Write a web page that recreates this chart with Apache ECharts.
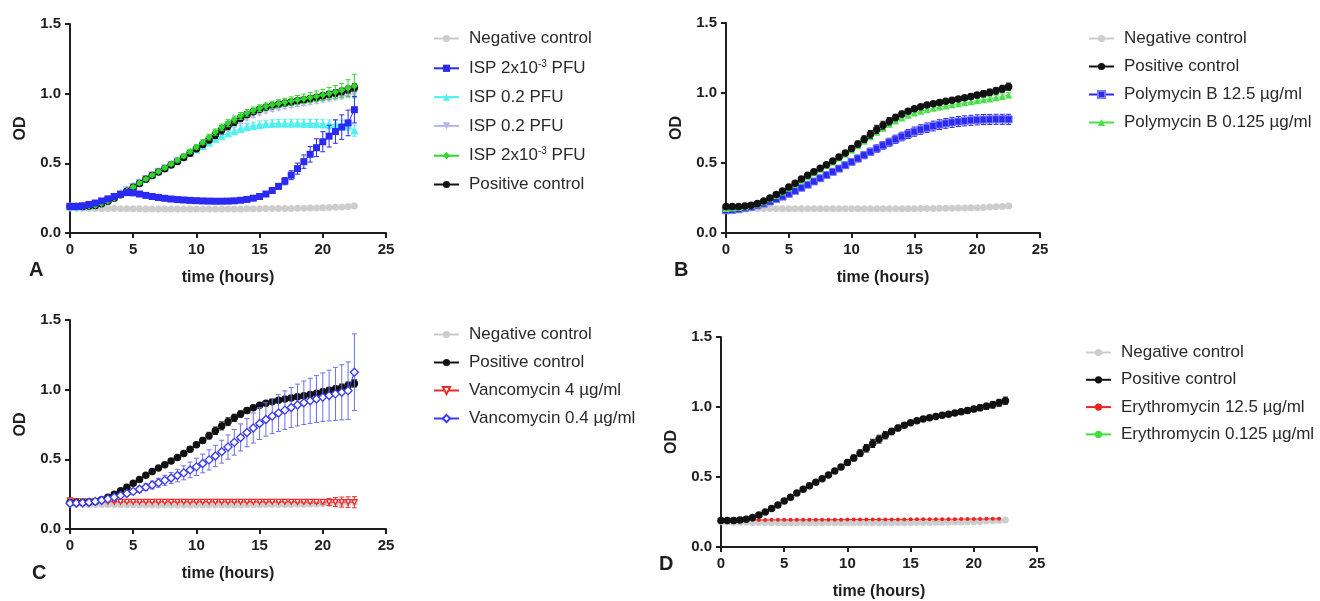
<!DOCTYPE html>
<html>
<head>
<meta charset="utf-8">
<script src="https://cdn.jsdelivr.net/npm/echarts@6/dist/echarts.min.js"></script>
<style>
  html, body { margin: 0; padding: 0; background: #fff; }
  #chart { width: 1320px; height: 601px; }
</style>
</head>
<body>
<div id="chart"></div>
<script>
// Sampling times (hours), one reading every 30 minutes
const hours = [0,0.5,1,1.5,2,2.5,3,3.5,4,4.5,5,5.5,6,6.5,7,7.5,8,8.5,9,9.5,
  10,10.5,11,11.5,12,12.5,13,13.5,14,14.5,15,15.5,16,16.5,17,17.5,18,18.5,19,19.5,
  20,20.5,21,21.5,22,22.5];

// Controls (shared by all four panels)
const negativeControl = [0.180,0.178,0.177,0.176,0.176,0.175,0.175,0.175,0.174,0.174,
  0.174,0.174,0.173,0.173,0.173,0.173,0.173,0.173,0.173,0.173,
  0.173,0.173,0.173,0.173,0.173,0.173,0.173,0.173,0.174,0.174,
  0.174,0.175,0.175,0.175,0.176,0.176,0.177,0.178,0.179,0.180,
  0.181,0.183,0.185,0.187,0.190,0.193];
const negativeControlSd = [0.004,0.004,0.004,0.004,0.004,0.004,0.004,0.004,0.004,0.004,
  0.004,0.004,0.004,0.004,0.004,0.004,0.004,0.004,0.004,0.004,
  0.004,0.004,0.004,0.004,0.004,0.004,0.005,0.005,0.005,0.005,
  0.005,0.005,0.006,0.006,0.006,0.007,0.007,0.008,0.008,0.009,
  0.009,0.010,0.011,0.012,0.013,0.014];
const positiveControl = [0.190,0.190,0.190,0.193,0.198,0.210,0.228,0.250,0.275,0.300,
  0.328,0.356,0.385,0.412,0.438,0.462,0.488,0.514,0.542,0.572,
  0.604,0.636,0.670,0.705,0.740,0.770,0.798,0.825,0.850,0.870,
  0.888,0.902,0.914,0.924,0.933,0.941,0.949,0.957,0.966,0.975,
  0.985,0.995,1.005,1.016,1.030,1.045];
const positiveControlSd = [0.004,0.004,0.004,0.004,0.005,0.005,0.006,0.006,0.007,0.007,
  0.008,0.008,0.009,0.010,0.010,0.011,0.012,0.013,0.015,0.017,
  0.019,0.021,0.024,0.027,0.029,0.028,0.026,0.023,0.020,0.017,
  0.015,0.013,0.012,0.012,0.012,0.013,0.014,0.015,0.016,0.018,
  0.019,0.021,0.022,0.024,0.025,0.026];

// Panel A: phage ISP
const ispLowA = [0.190,0.190,0.195,0.205,0.215,0.230,0.245,0.262,0.278,0.290,
  0.288,0.280,0.270,0.262,0.255,0.249,0.244,0.240,0.237,0.234,
  0.232,0.230,0.229,0.228,0.228,0.229,0.231,0.235,0.241,0.250,
  0.262,0.280,0.305,0.335,0.372,0.415,0.462,0.512,0.565,0.612,
  0.655,0.695,0.728,0.760,0.790,0.885];
const ispLowASd = [0.004,0.004,0.004,0.005,0.005,0.005,0.006,0.006,0.006,0.007,
  0.007,0.007,0.006,0.006,0.006,0.006,0.006,0.006,0.006,0.006,
  0.006,0.006,0.006,0.006,0.006,0.006,0.007,0.007,0.008,0.009,
  0.010,0.012,0.015,0.020,0.026,0.032,0.040,0.048,0.056,0.064,
  0.072,0.078,0.084,0.088,0.092,0.095];
const ispHighA = [0.190,0.190,0.192,0.198,0.207,0.222,0.242,0.265,0.290,0.315,
  0.340,0.366,0.392,0.418,0.444,0.470,0.496,0.522,0.548,0.574,
  0.600,0.625,0.650,0.674,0.696,0.716,0.733,0.748,0.760,0.770,
  0.777,0.782,0.785,0.787,0.788,0.788,0.788,0.787,0.786,0.785,
  0.783,0.781,0.779,0.776,0.772,0.735];
const ispHighASd = [0.004,0.004,0.004,0.005,0.005,0.006,0.007,0.008,0.009,0.010,
  0.011,0.012,0.013,0.014,0.015,0.016,0.017,0.018,0.019,0.020,
  0.021,0.022,0.023,0.024,0.025,0.025,0.026,0.026,0.026,0.026,
  0.027,0.027,0.027,0.027,0.028,0.028,0.028,0.029,0.029,0.030,
  0.030,0.031,0.032,0.033,0.035,0.040];
const ispHighB = [0.190,0.190,0.191,0.195,0.201,0.214,0.232,0.254,0.279,0.305,
  0.332,0.360,0.388,0.414,0.440,0.464,0.489,0.514,0.540,0.568,
  0.598,0.628,0.660,0.692,0.724,0.752,0.778,0.802,0.825,0.845,
  0.862,0.876,0.888,0.898,0.907,0.915,0.923,0.931,0.939,0.947,
  0.956,0.964,0.972,0.981,0.990,1.002];
const ispHighBSd = [0.004,0.004,0.004,0.004,0.005,0.005,0.006,0.006,0.007,0.007,
  0.008,0.008,0.009,0.009,0.010,0.010,0.011,0.011,0.012,0.012,
  0.013,0.013,0.014,0.014,0.015,0.015,0.015,0.015,0.015,0.015,
  0.015,0.015,0.015,0.015,0.015,0.015,0.015,0.016,0.016,0.016,
  0.016,0.017,0.017,0.018,0.018,0.019];
const ispLowB = [0.190,0.190,0.190,0.193,0.198,0.210,0.228,0.250,0.276,0.302,
  0.330,0.358,0.387,0.415,0.442,0.468,0.495,0.523,0.553,0.585,
  0.618,0.652,0.688,0.724,0.758,0.788,0.815,0.840,0.862,0.880,
  0.896,0.909,0.920,0.930,0.939,0.947,0.955,0.963,0.972,0.981,
  0.991,1.001,1.012,1.024,1.040,1.055];
const ispLowBSd = [0.004,0.004,0.004,0.004,0.005,0.005,0.006,0.006,0.007,0.007,
  0.008,0.008,0.009,0.010,0.010,0.011,0.012,0.013,0.014,0.015,
  0.016,0.018,0.020,0.022,0.024,0.025,0.025,0.025,0.024,0.024,
  0.024,0.025,0.026,0.027,0.028,0.030,0.032,0.034,0.036,0.038,
  0.040,0.043,0.046,0.050,0.060,0.085];

// Panel B: polymyxin B
const polyHigh = [0.162,0.165,0.170,0.177,0.186,0.197,0.210,0.225,0.242,0.260,
  0.280,0.301,0.323,0.345,0.368,0.391,0.414,0.437,0.460,0.484,
  0.508,0.532,0.556,0.580,0.603,0.626,0.648,0.669,0.689,0.707,
  0.724,0.739,0.752,0.764,0.774,0.783,0.790,0.796,0.801,0.805,
  0.808,0.810,0.811,0.812,0.812,0.812];
const polyHighSd = [0.006,0.006,0.006,0.007,0.007,0.008,0.009,0.010,0.011,0.012,
  0.013,0.014,0.015,0.016,0.017,0.018,0.019,0.020,0.021,0.022,
  0.023,0.024,0.025,0.026,0.027,0.028,0.029,0.030,0.031,0.032,
  0.033,0.034,0.034,0.035,0.035,0.035,0.036,0.036,0.036,0.036,
  0.036,0.036,0.036,0.036,0.036,0.036];
const polyLow = [0.175,0.178,0.182,0.188,0.196,0.208,0.224,0.244,0.268,0.293,
  0.320,0.348,0.376,0.403,0.430,0.456,0.482,0.508,0.535,0.563,
  0.593,0.624,0.656,0.688,0.720,0.749,0.776,0.800,0.822,0.841,
  0.857,0.870,0.881,0.891,0.900,0.908,0.916,0.923,0.930,0.937,
  0.944,0.951,0.958,0.966,0.975,0.985];
const polyLowSd = [0.004,0.004,0.004,0.004,0.005,0.005,0.006,0.006,0.007,0.007,
  0.008,0.008,0.009,0.009,0.010,0.010,0.011,0.011,0.012,0.012,
  0.013,0.013,0.014,0.014,0.015,0.015,0.015,0.015,0.015,0.015,
  0.015,0.015,0.015,0.015,0.015,0.015,0.015,0.016,0.016,0.016,
  0.016,0.017,0.017,0.018,0.018,0.019];

// Panel C: vancomycin
const vancoHigh = [0.205,0.200,0.198,0.197,0.196,0.196,0.196,0.195,0.195,0.195,
  0.195,0.195,0.195,0.195,0.195,0.195,0.195,0.195,0.195,0.195,
  0.195,0.195,0.195,0.195,0.195,0.195,0.195,0.195,0.195,0.195,
  0.195,0.195,0.195,0.195,0.195,0.195,0.194,0.194,0.194,0.194,
  0.194,0.193,0.193,0.193,0.193,0.192];
const vancoHighSd = [0.003,0.003,0.003,0.003,0.003,0.003,0.003,0.003,0.003,0.003,
  0.003,0.003,0.003,0.003,0.003,0.003,0.003,0.003,0.003,0.003,
  0.003,0.003,0.003,0.003,0.003,0.003,0.003,0.003,0.003,0.003,
  0.003,0.003,0.003,0.003,0.003,0.004,0.005,0.006,0.008,0.010,
  0.015,0.025,0.032,0.036,0.038,0.040];
const vancoLow = [0.185,0.186,0.188,0.192,0.198,0.206,0.216,0.228,0.241,0.255,
  0.270,0.285,0.300,0.316,0.332,0.349,0.366,0.384,0.403,0.424,
  0.446,0.470,0.496,0.524,0.555,0.588,0.622,0.657,0.692,0.725,
  0.757,0.786,0.810,0.832,0.853,0.872,0.890,0.906,0.920,0.933,
  0.946,0.958,0.970,0.981,0.993,1.125];
const vancoLowSd = [0.004,0.004,0.005,0.006,0.007,0.008,0.010,0.012,0.014,0.016,
  0.018,0.021,0.024,0.028,0.032,0.036,0.040,0.045,0.050,0.056,
  0.062,0.067,0.072,0.077,0.082,0.087,0.092,0.097,0.102,0.108,
  0.114,0.120,0.126,0.132,0.138,0.144,0.150,0.156,0.162,0.168,
  0.174,0.182,0.190,0.198,0.206,0.275];

// Panel D: erythromycin
const erythroHigh = [0.190,0.191,0.192,0.192,0.193,0.193,0.193,0.193,0.194,0.194,
  0.194,0.194,0.194,0.194,0.195,0.195,0.195,0.195,0.195,0.195,
  0.196,0.196,0.196,0.196,0.196,0.197,0.197,0.197,0.197,0.197,
  0.198,0.198,0.198,0.198,0.199,0.199,0.199,0.199,0.200,0.200,
  0.200,0.200,0.201,0.201,0.201,null];
const erythroLow = [0.186,0.186,0.186,0.186,0.186,0.186,0.186,0.186,0.186,0.186,
  0.186,0.186,0.186,0.186,0.186,0.186,0.186,0.186,0.186,0.186,
  0.186,0.186,0.186,0.186,0.186,0.186,0.186,0.186,0.187,0.187,
  0.187,0.187,0.187,0.187,0.187,0.188,0.188,0.188,0.188,0.189,
  0.189,0.189,0.190,0.190,0.190,0.191];

// Legend labels (rich text for the superscript exponent)
const legendLabels = {
  'Negative control': 'Negative control',
  'Positive control': 'Positive control',
  'ISP 2x10-3 PFU (1)': 'ISP 2x10{sup|-3} PFU',
  'ISP 0.2 PFU (1)': 'ISP 0.2 PFU',
  'ISP 0.2 PFU (2)': 'ISP 0.2 PFU',
  'ISP 2x10-3 PFU (2)': 'ISP 2x10{sup|-3} PFU',
  'Polymycin B 12.5 µg/ml': 'Polymycin B 12.5 µg/ml',
  'Polymycin B 0.125 µg/ml': 'Polymycin B 0.125 µg/ml',
  'Vancomycin 4 µg/ml': 'Vancomycin 4 µg/ml',
  'Vancomycin 0.4 µg/ml': 'Vancomycin 0.4 µg/ml',
  'Erythromycin 12.5 µg/ml': 'Erythromycin 12.5 µg/ml',
  'Erythromycin 0.125 µg/ml': 'Erythromycin 0.125 µg/ml'
};

// Marker styles for each dataset
const styles = {
  neg:   { color: '#cdcdcd', symbol: 'circle', size: 7 },
  pos:   { color: '#111111', symbol: 'circle', size: 7.5 },
  ispLowA:  { color: '#2a2af2', symbol: 'rect', size: 7 },
  ispHighA: { color: '#4ff0f0', symbol: 'triangle', size: 8 },
  ispHighB: { color: '#b4b4ee', symbol: 'triangle', size: 8, rotate: 180 },
  ispLowB:  { color: '#2ed82e', symbol: 'diamond', size: 7 },
  polyHigh: { color: '#2a2af2', symbol: 'rect', size: 7, border: '#7a7af5' },
  polyLow:  { color: '#4be04b', symbol: 'triangle', size: 7 },
  vancoHigh:{ color: '#ee2b2b', symbol: 'triangle', size: 5, rotate: 180, hollow: true },
  vancoLow: { color: '#3a3aee', symbol: 'diamond', size: 8, hollow: true, bar: '#6f6fe8' },
  erythroHigh: { color: '#ee2222', symbol: 'circle', size: 4 },
  erythroLow:  { color: '#3ee03e', symbol: 'circle', size: 4 }
};

const panels = [
  {
    letter: 'A', grid: { left: 70, top: 24, width: 316, height: 209 },
    letterPos: [29, 260],
    legend: { left: 433, top: 30, gap: 11.8 },
    legendOrder: ['Negative control','ISP 2x10-3 PFU (1)','ISP 0.2 PFU (1)','ISP 0.2 PFU (2)','ISP 2x10-3 PFU (2)','Positive control'],
    sets: [
      ['Negative control', negativeControl, negativeControlSd, 'neg'],
      ['ISP 0.2 PFU (1)', ispHighA, ispHighASd, 'ispHighA'],
      ['ISP 0.2 PFU (2)', ispHighB, ispHighBSd, 'ispHighB'],
      ['Positive control', positiveControl, positiveControlSd, 'pos'],
      ['ISP 2x10-3 PFU (2)', ispLowB, ispLowBSd, 'ispLowB'],
      ['ISP 2x10-3 PFU (1)', ispLowA, ispLowASd, 'ispLowA']
    ]
  },
  {
    letter: 'B', grid: { left: 726, top: 23, width: 314, height: 210 },
    letterPos: [674, 260],
    legend: { left: 1088, top: 30, gap: 11 },
    legendOrder: ['Negative control','Positive control','Polymycin B 12.5 µg/ml','Polymycin B 0.125 µg/ml'],
    sets: [
      ['Negative control', negativeControl, negativeControlSd, 'neg'],
      ['Polymycin B 12.5 µg/ml', polyHigh, polyHighSd, 'polyHigh'],
      ['Polymycin B 0.125 µg/ml', polyLow, polyLowSd, 'polyLow'],
      ['Positive control', positiveControl, positiveControlSd, 'pos']
    ]
  },
  {
    letter: 'C', grid: { left: 70, top: 320, width: 316, height: 209 },
    letterPos: [32, 563],
    legend: { left: 433, top: 326, gap: 11 },
    legendOrder: ['Negative control','Positive control','Vancomycin 4 µg/ml','Vancomycin 0.4 µg/ml'],
    sets: [
      ['Negative control', negativeControl, negativeControlSd, 'neg'],
      ['Vancomycin 4 µg/ml', vancoHigh, vancoHighSd, 'vancoHigh'],
      ['Positive control', positiveControl, positiveControlSd, 'pos'],
      ['Vancomycin 0.4 µg/ml', vancoLow, vancoLowSd, 'vancoLow']
    ]
  },
  {
    letter: 'D', grid: { left: 721, top: 337, width: 316, height: 210 },
    letterPos: [659, 554],
    legend: { left: 1085, top: 344, gap: 10.3 },
    legendOrder: ['Negative control','Positive control','Erythromycin 12.5 µg/ml','Erythromycin 0.125 µg/ml'],
    sets: [
      ['Erythromycin 0.125 µg/ml', erythroLow, null, 'erythroLow'],
      ['Negative control', negativeControl, negativeControlSd, 'neg'],
      ['Erythromycin 12.5 µg/ml', erythroHigh, null, 'erythroHigh'],
      ['Positive control', positiveControl, positiveControlSd, 'pos']
    ]
  }
];

const FONT = '"Liberation Sans", Arial, sans-serif';
const INK = '#1e1e1e';

const grids = [], xAxes = [], yAxes = [], series = [], legends = [], graphics = [];

panels.forEach((p, i) => {
  grids.push(Object.assign({ containLabel: false }, p.grid));
  xAxes.push({
    gridIndex: i, type: 'value', min: 0, max: 25, interval: 5,
    name: 'time (hours)', nameLocation: 'middle', nameGap: 37,
    nameTextStyle: { fontFamily: FONT, fontSize: 16, fontWeight: 'bold', color: INK },
    axisLine: { show: true, onZero: false, lineStyle: { color: INK, width: 2 } },
    axisTick: { show: true, length: 5, lineStyle: { color: INK, width: 2 } },
    axisLabel: { fontFamily: FONT, fontSize: 15, fontWeight: 'bold', color: INK, margin: 9 },
    splitLine: { show: false }
  });
  yAxes.push({
    gridIndex: i, type: 'value', min: 0, max: 1.5, interval: 0.5,
    name: 'OD', nameLocation: 'middle', nameGap: 41, nameRotate: 90,
    nameTextStyle: { fontFamily: FONT, fontSize: 16, fontWeight: 'bold', color: INK },
    axisLine: { show: true, onZero: false, lineStyle: { color: INK, width: 2 } },
    axisTick: { show: true, length: 5, lineStyle: { color: INK, width: 2 } },
    axisLabel: { fontFamily: FONT, fontSize: 15, fontWeight: 'bold', color: INK, margin: 9,
      formatter: v => v.toFixed(1) },
    splitLine: { show: false }
  });

  p.sets.forEach(([name, values, sd, styleKey], k) => {
    const st = styles[styleKey];
    const z = 2 + k;
    if (sd) {
      series.push({
        type: 'custom', xAxisIndex: i, yAxisIndex: i, silent: true, z: z,
        clip: false,
        data: hours.map((h, j) => [h, values[j], sd[j]]),
        renderItem: (params, api) => {
          const x = api.value(0), y = api.value(1), e = api.value(2);
          const top = api.coord([x, y + e]);
          const bot = api.coord([x, y - e]);
          const cap = 2.5;
          const col = st.bar || st.color;
          const s = { stroke: col, lineWidth: 1, fill: null };
          return {
            type: 'group',
            children: [
              { type: 'line', shape: { x1: top[0], y1: top[1], x2: bot[0], y2: bot[1] }, style: s },
              { type: 'line', shape: { x1: top[0] - cap, y1: top[1], x2: top[0] + cap, y2: top[1] }, style: s },
              { type: 'line', shape: { x1: bot[0] - cap, y1: bot[1], x2: bot[0] + cap, y2: bot[1] }, style: s }
            ]
          };
        }
      });
    }
    series.push({
      name: name, type: 'line', xAxisIndex: i, yAxisIndex: i, z: z,
      data: hours.map((h, j) => [h, values[j]]),
      symbol: st.symbol, symbolSize: st.size, symbolRotate: st.rotate || 0,
      showSymbol: true, connectNulls: false,
      lineStyle: { color: st.color, width: 1 },
      itemStyle: st.hollow
        ? { color: '#ffffff', borderColor: st.color, borderWidth: 1.3 }
        : { color: st.color, borderColor: st.border || st.color, borderWidth: st.border ? 1 : 0 },
      emphasis: { disabled: true }
    });
  });

  legends.push({
    orient: 'vertical', left: p.legend.left, top: p.legend.top, padding: 0,
    itemWidth: 25, itemHeight: 9, itemGap: p.legend.gap,
    data: p.legendOrder,
    formatter: name => legendLabels[name],
    selectedMode: false,
    textStyle: {
      fontFamily: FONT, fontSize: 17, color: '#2a2a2a', padding: [0, 0, 0, 5],
      rich: { sup: { fontFamily: FONT, fontSize: 10, color: '#2a2a2a', verticalAlign: 'top', padding: [0, 0, 9, 0] } }
    }
  });

  graphics.push({
    type: 'text', left: p.letterPos[0], top: p.letterPos[1],
    style: { text: p.letter, font: 'bold 20px ' + FONT, fill: INK }
  });
});

const chart = echarts.init(document.getElementById('chart'), null, { renderer: 'canvas' });
chart.setOption({
  animation: false,
  backgroundColor: '#ffffff',
  grid: grids, xAxis: xAxes, yAxis: yAxes,
  legend: legends, series: series, graphic: graphics
});
</script>
</body>
</html>
